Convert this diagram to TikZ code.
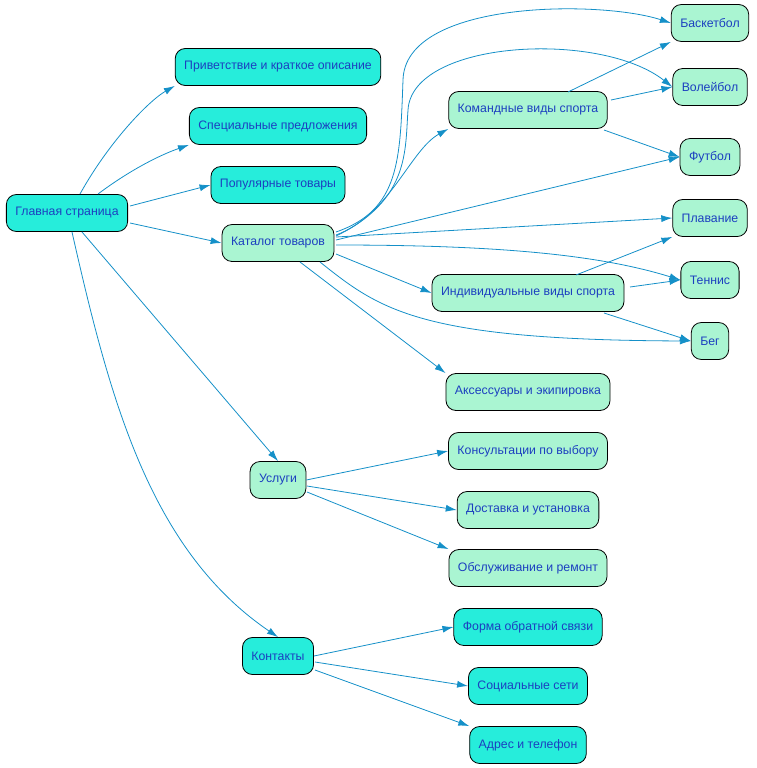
\documentclass[tikz,border=0pt]{standalone}
\usepackage{fontspec}
\setmainfont{Liberation Sans}
\usetikzlibrary{arrows.meta}
\definecolor{cyanf}{HTML}{26EDDB}
\definecolor{greenf}{HTML}{AAF5D2}
\definecolor{txt}{HTML}{1C3FC0}
\definecolor{edge}{HTML}{1590C8}
\begin{document}
\begin{tikzpicture}[x=1pt,y=-1pt,
  box/.style={draw=black,rounded corners=10pt,minimum height=37pt,inner xsep=9pt,font=\fontsize{12.3}{14}\selectfont,text=txt,line width=0.8pt},
  cy/.style={box,fill=cyanf},
  gr/.style={box,fill=greenf},
  e/.style={draw=edge,line width=0.8pt,-{Latex[length=11pt,width=7pt]}}]
\useasboundingbox (0,0) rectangle (756,768);
\node[cy] (m) at (67,213) {Главная страница};
\node[cy] (p) at (278,67) {Приветствие и краткое описание};
\node[cy] (s) at (278,126) {Специальные предложения};
\node[cy] (pop) at (278,185) {Популярные товары};
\node[gr] (k) at (278,243) {Каталог товаров};
\node[gr] (u) at (278,480) {Услуги};
\node[cy] (c) at (278,656) {Контакты};
\node[gr] (t) at (528,110) {Командные виды спорта};
\node[gr] (i) at (528,293) {Индивидуальные виды спорта};
\node[gr] (a) at (528,392) {Аксессуары и экипировка};
\node[gr] (u1) at (528,451) {Консультации по выбору};
\node[gr] (u2) at (528,510) {Доставка и установка};
\node[gr] (u3) at (528,568) {Обслуживание и ремонт};
\node[cy] (c1) at (528,627) {Форма обратной связи};
\node[cy] (c2) at (528,686) {Социальные сети};
\node[cy] (c3) at (528,745) {Адрес и телефон};
\node[gr] (b1) at (710,23) {Баскетбол};
\node[gr] (b2) at (710,87) {Волейбол};
\node[gr] (b3) at (710,157) {Футбол};
\node[gr] (b4) at (710,218) {Плавание};
\node[gr] (b5) at (710,280) {Теннис};
\node[gr] (b6) at (710,341) {Бег};
\draw[e] (80,194) .. controls (110,140) and (150,100) .. (p.south west);
\draw[e] (98,194) .. controls (130,170) and (160,155) .. (s.south west);
\draw[e] (130,206) -- (pop.west);
\draw[e] (130,223) -- (k.west);
\draw[e] (82,232) -- (u.north);
\draw[e] (72,232) .. controls (110,400) and (150,550) .. (c.north);
\draw[e] (336,235) .. controls (390,215) and (410,150) .. (t.south west);
\draw[e] (336,232) .. controls (400,210) and (400,160) .. (403,80) .. controls (405,0) and (600,0) .. (b1.west);
\draw[e] (336,236) .. controls (410,200) and (405,150) .. (408,110) .. controls (412,40) and (600,30) .. (b2.west);
\draw[e] (336,240) -- (b3.west);
\draw[e] (336,237) -- (b4.west);
\draw[e] (336,245) .. controls (500,245) and (600,255) .. (b5.west);
\draw[e] (336,254) -- (i.west);
\draw[e] (320,262) .. controls (380,310) and (420,340) .. (b6.west);
\draw[e] (300,262) -- (a.north west);
\draw[e] (568,92) -- (b1.south west);
\draw[e] (611,100) -- (b2.west);
\draw[e] (604,130) -- (b3.west);
\draw[e] (576,275) -- (b4.south west);
\draw[e] (630,287) -- (b5.west);
\draw[e] (604,313) -- (b6.west);
\draw[e] (u.east) -- (u1.west);
\draw[e] (307,486) -- (u2.west);
\draw[e] (307,492) -- (u3.north west);
\draw[e] (c.east) -- (c1.west);
\draw[e] (315,662) -- (c2.west);
\draw[e] (315,670) -- (c3.north west);
\end{tikzpicture}
\end{document}
